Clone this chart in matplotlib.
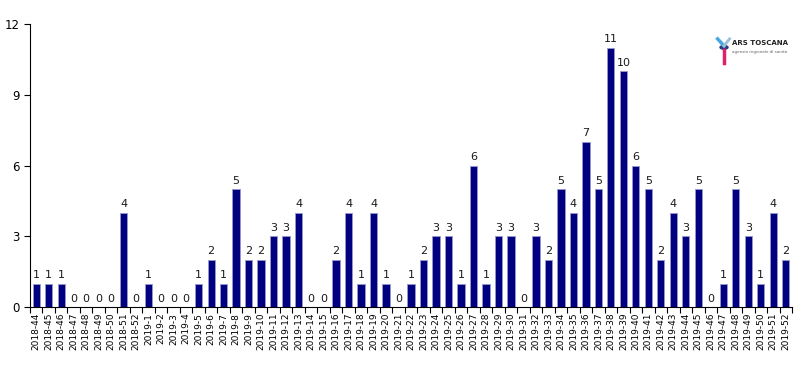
import matplotlib
matplotlib.use("Agg")
import matplotlib.pyplot as plt
import numpy as np

weeks = [f"2018-{w}" for w in range(44, 53)] + [f"2019-{w}" for w in range(1, 53)]
values = [1, 1, 1, 0, 0, 0, 0, 4, 0,
          1, 0, 0, 0, 1, 2, 1, 5, 2, 2, 3, 3, 4, 0, 0, 2, 4, 1, 4, 1, 0,
          1, 2, 3, 3, 1, 6, 1, 3, 3, 0, 3, 2, 5, 4, 7, 5, 11, 10, 6, 5,
          2, 4, 3, 5, 0, 1, 5, 3, 1, 4, 2]
yticks = [0, 3, 6, 9, 12]

plt.rcParams['font.family'] = ['DejaVu Sans']
fig = plt.figure(figsize=(8, 3.7), dpi=100)
ax = fig.add_axes([0.0375, 0.170, 0.9525, 0.765])
x = np.arange(len(weeks))
ax.bar(x, values, width=0.58, color='#000080', edgecolor='#9999cc', linewidth=0.6)
for xi, v in zip(x, values):
    ax.text(xi, v + 0.15, str(v), ha='center', va='bottom', fontsize=8, color='#1a1a1a')
ax.set_xlim(-0.5, len(weeks) - 0.5)
ax.set_ylim(0, 12)
ax.set_yticks(yticks)
ax.set_yticklabels([str(t) for t in yticks], fontsize=8.5)
ax.set_xticks(x)
ax.set_xticklabels(weeks, rotation=90, fontsize=6.5)
ax.tick_params(axis='x', which='major', length=0, pad=4)
ax.set_xticks(np.arange(-0.5, len(weeks), 1), minor=True)
ax.tick_params(axis='x', which='minor', length=4, width=0.8, color='black')
ax.tick_params(axis='y', length=4, width=0.8)
for s in ['top', 'right']:
    ax.spines[s].set_visible(False)
for s in ['left', 'bottom']:
    ax.spines[s].set_linewidth(0.8)

# logo
fig.text(0.915, 0.885, "ARS TOSCANA", fontsize=5, fontweight='bold', color='#222222', va='center')
fig.text(0.915, 0.86, "agenzia regionale di sanità", fontsize=3, color='#666666', va='center')
fig.patches.append(plt.Circle((0.905, 0.872), 0.005, transform=fig.transFigure, color='#2a3a7a'))
fig.lines.append(plt.Line2D([0.897, 0.905], [0.895, 0.876], transform=fig.transFigure, color='#4aa8e0', lw=2.5))
fig.lines.append(plt.Line2D([0.905, 0.912], [0.876, 0.895], transform=fig.transFigure, color='#9bbfd8', lw=2))
fig.lines.append(plt.Line2D([0.905, 0.905], [0.865, 0.83], transform=fig.transFigure, color='#e0206a', lw=2.5))

fig.savefig("out.png", dpi=100)
